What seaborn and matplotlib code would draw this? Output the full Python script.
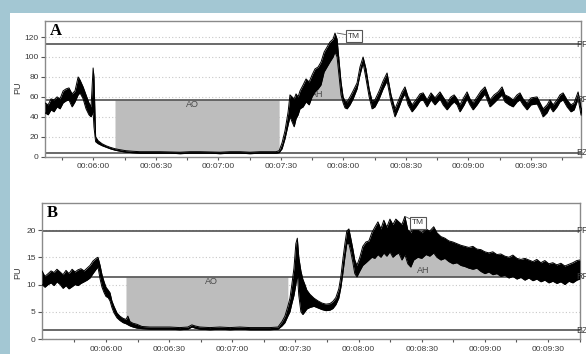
import numpy as np
import matplotlib
matplotlib.use("Agg")
import matplotlib.pyplot as plt
import seaborn as sns
from matplotlib.patches import Rectangle
from matplotlib.ticker import FuncFormatter, MultipleLocator, FixedLocator
import matplotlib.transforms as mtransforms

# ---------------- Panel A data (time in s, PU lower/upper edge of trace) ----------------
a_t = [336.8, 338.3, 339.7, 341.1, 342.6, 344.0, 345.5, 346.9, 348.3, 349.8,
       351.2, 352.7, 353.6, 355.1, 356.5, 357.9, 358.9, 359.9, 360.3, 361.1,
       362.3, 364.2, 366.1, 368.0, 370.4, 372.8, 375.7, 378.6, 382.4, 387.2,
       392.0, 396.8, 401.6, 406.4, 411.2, 416.0, 420.8, 425.6, 430.4, 435.2,
       440.0, 444.8, 447.7, 449.2, 450.6, 452.0, 453.5, 454.4, 455.4, 456.4,
       457.3, 458.3, 459.2, 460.7, 462.1, 463.6, 465.0, 466.4, 467.9, 469.3,
       470.8, 472.2, 473.6, 475.1, 476.0, 477.0, 478.0, 478.9, 479.9, 480.8,
       481.8, 483.2, 484.7, 486.6, 488.0, 489.5, 490.9, 492.4, 493.8, 495.2,
       497.2, 499.1, 501.0, 502.9, 504.8, 506.8, 508.2, 509.6, 511.1, 513.0,
       514.9, 516.8, 518.3, 520.2, 522.1, 524.0, 526.4, 527.9, 529.8, 531.7,
       533.2, 534.6, 536.0, 538.0, 539.4, 540.8, 542.3, 544.2, 546.1, 548.0,
       549.5, 550.4, 552.4, 554.3, 556.2, 557.6, 559.6, 561.5, 563.4, 564.8,
       566.3, 568.2, 570.1, 573.0, 574.9, 575.9, 577.8, 579.2, 580.7, 582.6,
       584.0, 585.5, 587.4, 589.3, 590.8, 592.7, 594.1, 595.1]
a_lo = [44, 42, 47, 45, 50, 48, 54, 56, 57, 50,
        55, 62, 64, 58, 48, 42, 40, 45, 30, 15,
        13, 11, 9.5, 8, 6.5, 5.5, 4.5, 4, 3.5, 3.5,
        3.5, 3.5, 3, 3.5, 3.5, 3.5, 3, 3.5, 3.5, 3,
        3.5, 3.5, 3.5, 4, 8, 18, 32, 40, 35, 30,
        38, 42, 48, 50, 55, 52, 60, 65, 68, 72,
        85, 90, 95, 100, 105, 100, 80, 62, 54, 49,
        48, 52, 58, 68, 82, 94, 78, 60, 48, 50,
        58, 68, 76, 55, 40, 50, 58, 63, 52, 45,
        50, 56, 57, 50, 57, 52, 58, 52, 47, 52,
        55, 52, 45, 52, 58, 52, 47, 52, 58, 63,
        55, 50, 54, 58, 62, 55, 52, 50, 55, 57,
        52, 47, 52, 53, 45, 40, 44, 50, 45, 50,
        55, 57, 50, 45, 47, 58, 42, 38]
a_hi = [54, 52, 58, 57, 60, 58, 66, 68, 69, 63,
        66, 80, 77, 70, 62, 54, 50, 89, 80, 20,
        16, 13, 11, 9.5, 8, 7, 6, 5.5, 5, 5,
        5, 4.8, 4.5, 5, 5, 4.8, 4.5, 5, 5, 4.5,
        5, 5, 5, 6, 14, 26, 45, 62, 60, 58,
        63, 60, 66, 72, 78, 75, 82, 88, 90, 95,
        105, 110, 115, 118, 124, 118, 95, 75, 60, 56,
        55, 60, 66, 74, 90, 100, 88, 68, 56, 57,
        66, 76, 84, 62, 48, 58, 65, 70, 60, 52,
        57, 63, 64, 57, 64, 59, 65, 60, 54, 60,
        62, 58, 52, 60, 65, 58, 54, 60, 66, 70,
        62, 57, 62, 65, 70, 62, 60, 57, 62, 64,
        58, 54, 59, 60, 52, 48, 52, 57, 52, 57,
        62, 64, 57, 52, 54, 65, 50, 46]
a_levels = {"PF": 113, "RF": 57, "BZ": 4}
a_ao = (370.0, 449.3)
a_ah = (454.0, 480.5)
a_tm = (477.0, 124.0)
a_yticks = [0, 20, 40, 60, 80, 100, 120]

# ---------------- Panel B data ----------------
b_t = [329.6, 331.0, 332.5, 333.9, 335.3, 336.7, 338.2, 339.6, 341.0, 342.4,
       343.9, 345.3, 346.7, 348.1, 349.6, 351.0, 352.4, 353.8, 355.3, 356.2,
       357.2, 358.1, 359.1, 360.0, 361.0, 361.9, 362.8, 363.8, 365.2, 366.6,
       368.1, 369.5, 370.4, 371.4, 372.8, 374.7, 377.1, 380.9, 385.6, 390.4,
       395.1, 398.9, 400.8, 402.3, 404.6, 409.4, 414.1, 418.9, 423.6, 428.4,
       433.1, 437.9, 441.7, 443.6, 445.0, 446.4, 447.4, 448.3, 449.3, 450.2,
       450.9, 451.6, 452.6, 453.5, 454.5, 455.4, 456.9, 458.8, 460.7, 462.6,
       464.5, 466.4, 467.8, 469.2, 470.6, 471.6, 472.5, 473.5, 474.4, 475.4,
       476.3, 477.3, 478.2, 479.2, 480.6, 482.0, 483.5, 484.9, 486.3, 487.7,
       489.2, 490.6, 492.0, 493.4, 494.9, 496.3, 497.7, 499.1, 500.6, 502.0,
       503.4, 504.8, 506.2, 508.1, 510.0, 512.0, 513.8, 515.7, 517.2, 519.1,
       521.0, 522.9, 524.8, 526.7, 528.6, 530.5, 532.4, 534.3, 536.2, 538.1,
       540.0, 541.9, 543.8, 545.7, 547.6, 549.5, 551.4, 553.3, 555.2, 557.1,
       559.0, 560.9, 562.8, 564.7, 566.6, 568.5, 570.4, 572.3, 574.2, 576.1,
       578.0, 579.9, 581.8, 583.7, 585.1]
b_lo = [10, 9.5, 10, 10.3, 9.8, 10.5, 10, 9.3, 9.8, 9.2,
        9.6, 10, 9.8, 10.2, 10.5, 10.8, 11.2, 12, 12.8, 13.2,
        11, 9.5, 8.5, 7.8, 7.6, 7, 5.8, 4.8, 3.9, 3.4,
        3, 2.8, 2.6, 2.4, 2.2, 2, 1.9, 1.8, 1.8, 1.8,
        1.7, 1.8, 2.2, 2, 1.8, 1.7, 1.8, 1.7, 1.8, 1.7,
        1.7, 1.7, 1.8, 2.4, 3, 4.2, 5, 6.5, 8, 10,
        12, 8, 5, 4.5, 5, 5.5, 5.8, 6, 5.7, 5.4,
        5.2, 5.3, 5.6, 6.3, 7.5, 9.5, 12, 15, 17.5, 17.5,
        16, 14, 12, 11.4, 12.5, 13.5, 14, 14.5, 15, 14.8,
        15.5, 15, 15.8, 15.2, 16, 15, 15.5, 15.8, 14.5, 15.5,
        13.8, 13.2, 14.5, 15, 14.8, 15.5, 15.2, 15.8, 15, 14.5,
        14.8, 14.2, 13.8, 14, 13.5, 13.3, 13, 12.8, 13, 12.4,
        12, 12.3, 11.8, 12, 11.5, 11.7, 11.2, 11.5, 11, 11.3,
        10.8, 11.2, 10.7, 11, 10.5, 10.8, 10.3, 10.6, 10.2, 10.5,
        10, 10.6, 10.3, 10.8, 11]
b_hi = [12.5, 11.5, 12, 12.5, 12.2, 12.8, 12.3, 11.8, 12.6, 12,
        12.8, 12.3, 12.7, 12.9, 12.5, 13, 13.5, 14.3, 14.8, 15,
        13.5, 11.8, 10.5, 9.5, 9, 8.5, 7, 6, 4.8, 4.2,
        3.8, 3.6, 4.2, 3.2, 2.9, 2.7, 2.3, 2.2, 2.2, 2.2,
        2.1, 2.2, 2.6, 2.4, 2.2, 2.1, 2.2, 2.1, 2.2, 2.1,
        2.1, 2.1, 2.2, 3.2, 4.2, 6, 7.5, 10, 13, 17.5,
        18.5, 15, 12.5, 11, 10, 9, 8.2, 7.5, 7, 6.6,
        6.4, 6.5, 6.9, 7.6, 9.2, 11.5, 14.5, 17.5, 19.8, 20.2,
        18.5, 16.5, 14.5, 13.5, 15, 17, 17.8, 18, 19.5, 20.5,
        21.5, 20.2, 21.8, 20.5, 22, 21, 22, 21.5, 21, 22.5,
        20, 19.5, 20.5, 20, 19.5, 20.2, 19.8, 20.6, 19.5, 18.8,
        18.5, 18, 17.8, 17.5, 17.2, 17, 16.8, 17, 16.5, 16.4,
        16, 15.8, 16, 15.5, 15.6, 15.2, 15, 15.4, 14.8, 14.6,
        14.8, 14.5, 14.2, 14.6, 14, 14.4, 13.8, 14, 13.6, 13.9,
        13.4, 13.7, 14, 14.4, 14.5]
b_levels = {"PF": 19.9, "RF": 11.4, "BZ": 1.65}
b_ao = (369.4, 446.5)
b_ah = (472.0, 600.0)
b_tm = (502.0, 22.5)
b_yticks = [0, 5, 10, 15, 20]

time_ticks = [360, 390, 420, 450, 480, 510, 540, 570]
minor_ticks = [345, 375, 405, 435, 465, 495, 525, 555, 585]

# ---------------- style ----------------
sns.set_style("white")
plt.rcParams["font.family"] = ["Liberation Sans", "DejaVu Sans"]

GRAY_FILL = "#bdbdbd"
LINE_C = "#505050"
TXT_C = "#3a3a3a"

fig = plt.figure(figsize=(5.86, 3.54), dpi=100)
fig.patch.set_facecolor("#a3c7d3")
fig.add_artist(Rectangle((10 / 586, 0), 1, (354 - 13) / 354,
                         transform=fig.transFigure, facecolor="white",
                         edgecolor="none", zorder=-1))

axA = fig.add_axes([45 / 586, 1 - 157 / 354, 536 / 586, 136.3 / 354])
axB = fig.add_axes([42 / 586, 1 - 339.3 / 354, 538 / 586, 136.0 / 354])


def fmt_time(v, pos=None):
    v = int(round(v))
    return f"00:{v // 60:02d}:{v % 60:02d}"


def draw_panel(ax, t, lo, hi, levels, ao, ah, tm, yticks, ylim, xlim,
               letter, ao_lbl, ah_lbl, tm_box, lab_x, ylab_xy):
    t = np.asarray(t, float)
    lo = np.asarray(lo, float)
    hi = np.asarray(hi, float)
    rf = levels["RF"]
    ax.set_facecolor("white")
    # grid
    for yv in yticks:
        ax.axhline(yv, color="#c8c8c8", lw=0.8, ls=(0, (1, 2)), zorder=0.5)
    # occlusion area
    m_ao = (t >= ao[0]) & (t <= ao[1])
    ax.fill_between(t, hi, rf, where=m_ao, color=GRAY_FILL, lw=0, zorder=1)
    # hyperaemia area
    m_ah = (t >= ah[0]) & (t <= ah[1])
    ax.fill_between(t, rf, lo, where=m_ah & (lo > rf), interpolate=True,
                    color=GRAY_FILL, lw=0, zorder=1)
    # reference levels
    trans = mtransforms.blended_transform_factory(ax.transAxes, ax.transData)
    for name, yv in levels.items():
        ax.axhline(yv, color=LINE_C, lw=1.2, zorder=2)
        ax.text(lab_x, yv, name, transform=trans, ha="left", va="center",
                fontsize=6.5, color=TXT_C, clip_on=False, zorder=6)
    # area labels
    ax.text(ao_lbl[0], ao_lbl[1], "AO", ha="center", va="center",
            fontsize=6.5, color="#4a4a4a", zorder=2.5)
    ax.text(ah_lbl[0], ah_lbl[1], "AH", ha="center", va="center",
            fontsize=6.5, color="#4a4a4a", zorder=2.5)
    # trace
    ax.fill_between(t, lo, hi, color="black", lw=0, zorder=3)
    sns.lineplot(x=t, y=lo, ax=ax, color="black", lw=0.7,
                 estimator=None, sort=False, zorder=3)
    sns.lineplot(x=t, y=hi, ax=ax, color="black", lw=0.7,
                 estimator=None, sort=False, zorder=3)
    # TM marker
    ax.annotate("TM", xy=tm, xytext=tm_box, ha="center", va="center",
                fontsize=6, color=TXT_C, zorder=7,
                bbox=dict(boxstyle="square,pad=0.25", fc="white",
                          ec="#555555", lw=0.8),
                arrowprops=dict(arrowstyle="-", color="#555555", lw=0.6,
                                shrinkA=0, shrinkB=0))
    # panel letter
    ax.text(0.009, 0.985, letter, transform=ax.transAxes, ha="left",
            va="top", fontsize=12, fontweight="bold",
            family=["Liberation Serif", "DejaVu Serif"], color="black",
            zorder=8)
    # axes
    ax.set_xlim(*xlim)
    ax.set_ylim(*ylim)
    ax.set_yticks(yticks)
    ax.xaxis.set_major_locator(FixedLocator(time_ticks))
    ax.xaxis.set_minor_locator(FixedLocator(minor_ticks))
    ax.xaxis.set_major_formatter(FuncFormatter(fmt_time))
    ax.tick_params(axis="x", which="both", direction="out", length=2,
                   width=0.8, color="#555555", labelsize=6, pad=2.5,
                   labelcolor=TXT_C, bottom=True)
    ax.tick_params(axis="y", direction="out", length=3, width=0.8,
                   color="#555555", labelsize=6, pad=1.5, labelcolor=TXT_C,
                   left=True)
    for s in ax.spines.values():
        s.set_color("#8a8a8a")
        s.set_linewidth(1.0)
        s.set_visible(True)
    ax.set_xlabel("")
    ax.set_ylabel("PU", fontsize=6.5, color=TXT_C)
    ax.yaxis.set_label_coords(*ylab_xy)


draw_panel(axA, a_t, a_lo, a_hi, a_levels, a_ao, a_ah, a_tm, a_yticks,
           (-0.3, 136.4), (336.8, 594.1), "A",
           (407.4, 52), (467.5, 62), (485.2, 121.0), 0.9907, (-0.043, 0.506))
draw_panel(axB, b_t, b_lo, b_hi, b_levels, b_ao, b_ah, b_tm, b_yticks,
           (-0.05, 24.9), (329.6, 585.2), "B",
           (410.2, 10.5), (510.7, 12.5), (508.4, 21.3), 0.9926, (-0.037, 0.487))

fig.savefig("out.png", dpi=100, facecolor=fig.get_facecolor())
